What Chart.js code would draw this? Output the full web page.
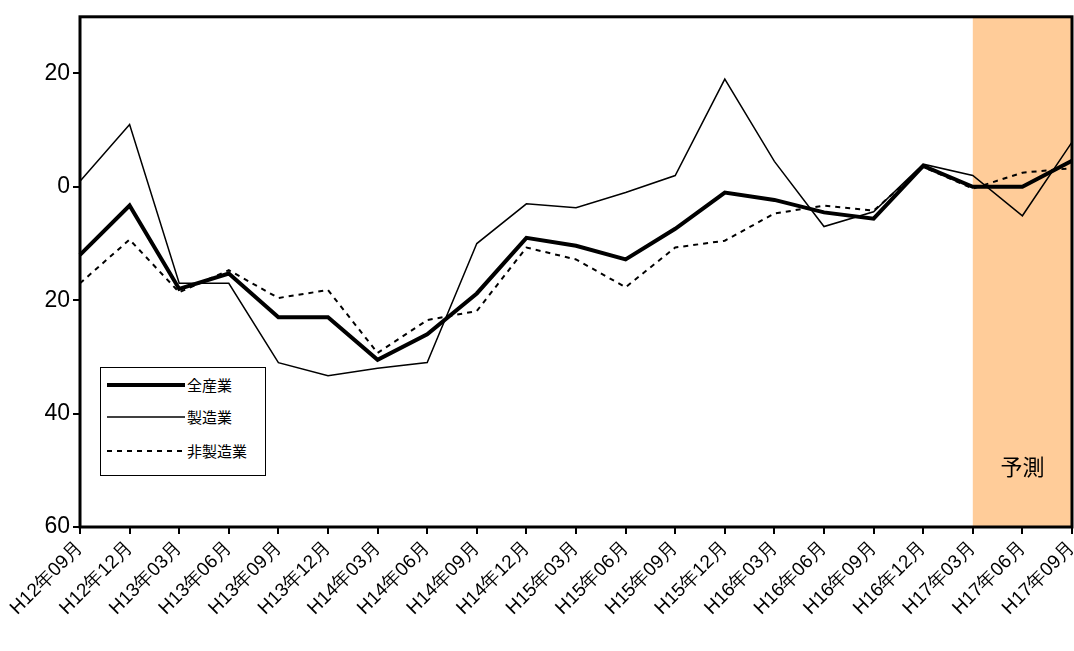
<!DOCTYPE html>
<html>
<head>
<meta charset="utf-8">
<script src="https://cdn.jsdelivr.net/npm/chart.js@4"></script>
<style>
  body { margin: 0; background: #fff; }
  #wrap { position: relative; width: 1074px; height: 651px; }
  #legend { position: absolute; left: 100px; top: 367px; width: 164px; height: 107px;
    border: 1px solid #000; background: #fff; font-family: "Noto Sans CJK JP", sans-serif; font-size: 15px; }
  #legend div { position: absolute; left: 6px; display: flex; align-items: center; }
  #legend svg { margin-right: 2px; }
</style>
</head>
<body>
<div id="wrap">
  <canvas id="chart" width="1074" height="651"></canvas>
  <div id="legend">
    <div style="top:6px"><svg width="78" height="10"><line x1="0" y1="5" x2="78" y2="5" stroke="#000" stroke-width="4"/></svg>全産業</div>
    <div style="top:38px"><svg width="78" height="10"><line x1="0" y1="5" x2="78" y2="5" stroke="#000" stroke-width="1.5"/></svg>製造業</div>
    <div style="top:72px"><svg width="78" height="10"><line x1="0" y1="5" x2="78" y2="5" stroke="#000" stroke-width="2" stroke-dasharray="5,5"/></svg>非製造業</div>
  </div>
</div>
<script>
const labels = ["H12年09月","H12年12月","H13年03月","H13年06月","H13年09月","H13年12月","H14年03月",
  "H14年06月","H14年09月","H14年12月","H15年03月","H15年06月","H15年09月","H15年12月","H16年03月",
  "H16年06月","H16年09月","H16年12月","H17年03月","H17年06月","H17年09月"];
const allIndustry = [-12, -3.3, -18, -15.3, -23, -23, -30.5, -26, -18.8, -9, -10.4, -12.8, -7.4, -1, -2.3, -4.5, -5.6, 3.7, 0, 0, 4.6];
const manufacturing = [1, 11, -17, -17, -31, -33.3, -32, -31, -10, -3, -3.7, -1, 2, 19, 4.5, -7, -4.4, 4, 2, -5.1, 7.9];
const nonManufacturing = [-17, -9.3, -18.6, -14.7, -19.6, -18.2, -29.3, -23.5, -21.9, -10.7, -12.8, -17.7, -10.7, -9.5, -4.7, -3.3, -4.2, 3.5, -0.3, 2.5, 3.3];
const forecastStart = 18;

const forecastBand = {
  id: "forecastBand",
  beforeDatasetsDraw(chart) {
    const { ctx, chartArea, scales } = chart;
    const x0 = scales.x.getPixelForValue(forecastStart);
    ctx.save();
    ctx.fillStyle = "#FFCC99";
    ctx.fillRect(x0, chartArea.top, chartArea.right - x0, chartArea.bottom - chartArea.top);
    ctx.fillStyle = "#000";
    ctx.font = "22px 'Noto Sans CJK JP'";
    ctx.textAlign = "center";
    ctx.fillText("予測", (x0 + chartArea.right) / 2, 475);
    ctx.restore();
  },
  afterDraw(chart) {
    const { ctx, chartArea } = chart;
    ctx.save();
    ctx.strokeStyle = "#000";
    ctx.lineWidth = 3;
    ctx.strokeRect(chartArea.left, chartArea.top, chartArea.right - chartArea.left, chartArea.bottom - chartArea.top);
    ctx.restore();
  }
};

new Chart(document.getElementById("chart").getContext("2d"), {
  type: "line",
  data: {
    labels: labels,
    datasets: [
      { data: nonManufacturing, borderColor: "#000", borderWidth: 2, borderDash: [5, 5], pointRadius: 0, tension: 0 },
      { data: manufacturing, borderColor: "#000", borderWidth: 1.5, pointRadius: 0, tension: 0 },
      { data: allIndustry, borderColor: "#000", borderWidth: 4, pointRadius: 0, tension: 0 }
    ]
  },
  options: {
    responsive: false,
    animation: false,
    layout: { padding: { top: 15, right: 2, left: 0, bottom: 0 } },
    plugins: { legend: { display: false }, tooltip: { enabled: false } },
    scales: {
      x: {
        offset: false,
        grid: { display: true, drawOnChartArea: false, drawTicks: true, tickLength: 7, color: "#000", lineWidth: 2 },
        border: { display: false },
        ticks: { color: "#000", font: { size: 19, family: "Arial" }, maxRotation: 45, minRotation: 45, autoSkip: false },
        afterFit(s) { s.height = 124; s.paddingRight = 0; }
      },
      y: {
        min: -60, max: 30,
        grid: { display: true, drawOnChartArea: false, drawTicks: true, tickLength: 7, color: "#000", lineWidth: 2 },
        border: { display: false },
        ticks: { stepSize: 20, color: "#000", font: { size: 23, family: "Arial" },
          callback: v => Math.abs(v) },
        afterBuildTicks(s) { s.ticks = [-60, -40, -20, 0, 20].map(v => ({ value: v })); },
        afterFit(s) { s.width = 80; }
      }
    }
  },
  plugins: [forecastBand]
});
</script>
</body>
</html>
